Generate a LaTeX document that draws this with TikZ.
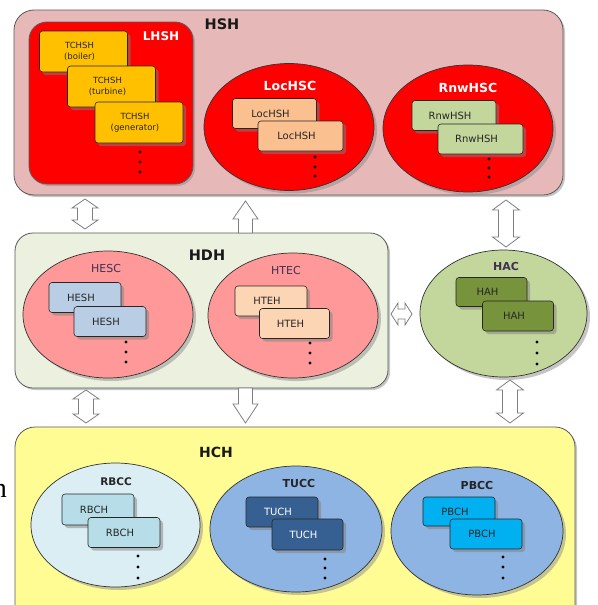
\documentclass[tikz,border=0pt]{standalone}
\usepackage{fontspec}
\setmainfont{DejaVu Sans}
\newfontfamily\serifh{Liberation Serif}
\usetikzlibrary{shapes.geometric,shadows}
\definecolor{hshfill}{HTML}{E6B9B8}
\definecolor{hdhfill}{HTML}{EBF1DE}
\definecolor{hchfill}{HTML}{FFFC94}
\definecolor{tchsh}{HTML}{FFC000}
\definecolor{lochsh}{HTML}{FAC090}
\definecolor{rnwhsh}{HTML}{C3D69B}
\definecolor{hescfill}{HTML}{FF9999}
\definecolor{hesh}{HTML}{B9CDE5}
\definecolor{hteh}{HTML}{FCD5B5}
\definecolor{hacfill}{HTML}{C3D69B}
\definecolor{hah}{HTML}{77933C}
\definecolor{rbccfill}{HTML}{DBEEF4}
\definecolor{rbch}{HTML}{B7DEE8}
\definecolor{tuccfill}{HTML}{8EB4E3}
\definecolor{tuch}{HTML}{376092}
\definecolor{pbch}{HTML}{00B0F0}
\definecolor{labdark}{HTML}{3F3151}
\definecolor{arrowgray}{HTML}{7F7F7F}
% vertical double block arrow: x, ytop, ybottom, head width, shaft width, head length
\newcommand\myvdarrow[6]{%
  \draw[blockarrow] (#1,#2) -- (#1+#4/2,#2+#6) -- (#1+#5/2,#2+#6) -- (#1+#5/2,#3-#6)
    -- (#1+#4/2,#3-#6) -- (#1,#3) -- (#1-#4/2,#3-#6) -- (#1-#5/2,#3-#6)
    -- (#1-#5/2,#2+#6) -- (#1-#4/2,#2+#6) -- cycle;}
% horizontal double block arrow: y, xleft, xright, head height, shaft height, head length
\newcommand\myhdarrow[6]{%
  \draw[blockarrow] (#2,#1) -- (#2+#6,#1-#4/2) -- (#2+#6,#1-#5/2) -- (#3-#6,#1-#5/2)
    -- (#3-#6,#1-#4/2) -- (#3,#1) -- (#3-#6,#1+#4/2) -- (#3-#6,#1+#5/2)
    -- (#2+#6,#1+#5/2) -- (#2+#6,#1+#4/2) -- cycle;}
% single up arrow (tip at ytop)
\newcommand\myuparrow[6]{%
  \draw[blockarrow] (#1,#2) -- (#1+#4/2,#2+#6) -- (#1+#5/2,#2+#6) -- (#1+#5/2,#3)
    -- (#1-#5/2,#3) -- (#1-#5/2,#2+#6) -- (#1-#4/2,#2+#6) -- cycle;}
% single down arrow (tip at ybottom)
\newcommand\mydownarrow[6]{%
  \draw[blockarrow] (#1,#3) -- (#1+#4/2,#3-#6) -- (#1+#5/2,#3-#6) -- (#1+#5/2,#2)
    -- (#1-#5/2,#2) -- (#1-#5/2,#3-#6) -- (#1-#4/2,#3-#6) -- cycle;}
\tikzset{
  outerbox/.style={draw=black!65, line width=0.8pt, rounded corners=20pt, inner sep=0pt,
    drop shadow={shadow xshift=2pt, shadow yshift=-2pt, fill=black!45}},
  ell/.style={ellipse, draw=black!80, line width=0.7pt, inner sep=0pt,
    drop shadow={shadow xshift=3pt, shadow yshift=-3pt, fill=black!45}},
  itembox/.style={draw=black!85, line width=0.6pt, rounded corners=3pt, inner sep=0pt,
    text=black!85, font=\fontsize{10}{11}\selectfont,
    execute at begin node={\hspace*{-8pt}},
    drop shadow={shadow xshift=3pt, shadow yshift=-3pt, fill=black!50}},
  tcbox/.style={itembox, execute at begin node={}, fill=tchsh, minimum width=88pt, minimum height=41pt, align=center,
    font=\fontsize{8.5}{11}\selectfont},
  bigtitle/.style={font=\bfseries\fontsize{14.5}{15}\selectfont, text=black!90},
  whitetitle/.style={font=\bfseries\fontsize{12.5}{13}\selectfont, text=white},
  subtitle/.style={font=\fontsize{11}{12}\selectfont, text=labdark},
  boldsub/.style={font=\bfseries\fontsize{11}{12}\selectfont, text=black!85},
  dotmark/.style={circle, fill=black, inner sep=0pt, minimum size=3.2pt},
  blockarrow/.style={draw=arrowgray, fill=white, line width=0.8pt, line join=miter}
}
\begin{document}
\begin{tikzpicture}[x=1pt,y=-1pt]
\useasboundingbox (0,0) rectangle (597,605);
\clip (0,0) rectangle (597,605);

% ---------- HSH ----------
\node[outerbox, fill=hshfill, minimum width=549pt, minimum height=185pt] (HSH) at (288.5,102.5) {};
\node[bigtitle] (HSHt) at (222,24) {HSH};

\node[outerbox, fill=red, rounded corners=18pt, minimum width=164pt, minimum height=162pt] (LHSH) at (111,103) {};
\node[whitetitle, font=\bfseries\fontsize{12}{13}\selectfont] (LHSHt) at (161,36) {LHSH};
\node[tcbox] (tc1) at (83.5,51.5) {TCHSH\\(boiler)};
\node[tcbox] (tc2) at (111.5,86.5) {TCHSH\\(turbine)};
\node[tcbox] (tc3) at (139,122.5) {TCHSH\\(generator)};
\node[dotmark] (d1a) at (140,152) {};
\node[dotmark] (d1b) at (140,162) {};
\node[dotmark] (d1c) at (140,172) {};

\node[ell, fill=red, minimum width=170pt, minimum height=127pt] (LocHSC) at (289,127) {};
\node[whitetitle] (LocHSCt) at (290,86) {LocHSC};
\node[itembox, fill=lochsh, minimum width=84pt, minimum height=30pt] (loc1) at (274.5,113.5) {LocHSH};
\node[itembox, fill=lochsh, minimum width=85pt, minimum height=30pt] (loc2) at (300.5,136) {LocHSH};
\node[dotmark] (d2a) at (315,157) {};
\node[dotmark] (d2b) at (315,167) {};
\node[dotmark] (d2c) at (315,176) {};

\node[ell, fill=red, minimum width=170pt, minimum height=127pt] (RnwHSC) at (468,128.5) {};
\node[whitetitle] (RnwHSCt) at (468,88) {RnwHSC};
\node[itembox, fill=rnwhsh, minimum width=84pt, minimum height=30pt] (rnw1) at (454,115.5) {RnwHSH};
\node[itembox, fill=rnwhsh, minimum width=85pt, minimum height=30pt] (rnw2) at (480.5,139) {RnwHSH};
\node[dotmark] (d3a) at (489,159) {};
\node[dotmark] (d3b) at (489,168) {};
\node[dotmark] (d3c) at (489,177) {};

% ---------- HDH ----------
\node[outerbox, fill=hdhfill, rounded corners=18pt, minimum width=373pt, minimum height=155pt] (HDH) at (201.5,310.5) {};
\node[bigtitle] (HDHt) at (207,255) {HDH};

\node[ell, fill=hescfill, minimum width=170pt, minimum height=127pt] (HESC) at (108,314.5) {};
\node[subtitle] (HESCt) at (106,268) {HESC};
\node[itembox, fill=hesh, minimum width=72pt, minimum height=30pt] (hesh1) at (85,297.5) {HESH};
\node[itembox, fill=hesh, minimum width=72pt, minimum height=30pt] (hesh2) at (110,321.5) {HESH};
\node[dotmark] (d4a) at (126,342) {};
\node[dotmark] (d4b) at (126,352) {};
\node[dotmark] (d4c) at (126,362) {};

\node[ell, fill=hescfill, minimum width=170pt, minimum height=125pt] (HTEC) at (293,315.5) {};
\node[subtitle] (HTECt) at (286,270) {HTEC};
\node[itembox, fill=hteh, minimum width=72pt, minimum height=30pt] (hteh1) at (271,301) {HTEH};
\node[itembox, fill=hteh, minimum width=70pt, minimum height=30pt] (hteh2) at (294.5,323.5) {HTEH};
\node[dotmark] (d5a) at (310,343) {};
\node[dotmark] (d5b) at (310,353) {};
\node[dotmark] (d5c) at (310,363) {};

% ---------- HAC ----------
\node[ell, fill=hacfill, minimum width=167pt, minimum height=127pt] (HAC) at (503.5,313.5) {};
\node[boldsub, text=labdark] (HACt) at (506,266) {HAC};
\node[itembox, fill=hah, minimum width=71pt, minimum height=29pt] (hah1) at (491.5,292) {HAH};
\node[itembox, fill=hah, minimum width=71pt, minimum height=30pt] (hah2) at (518,316) {HAH};
\node[dotmark] (d6a) at (537,342) {};
\node[dotmark] (d6b) at (537,353) {};
\node[dotmark] (d6c) at (537,364) {};

% ---------- HCH ----------
\node[outerbox, fill=hchfill, minimum width=560pt, minimum height=213pt] (HCH) at (295,533.5) {};
\node[bigtitle, font=\bfseries\fontsize{14}{15}\selectfont] (HCHt) at (216,452) {HCH};

\node[ell, fill=rbccfill, minimum width=169pt, minimum height=124pt] (RBCC) at (115.5,525) {};
\node[boldsub, font=\bfseries\fontsize{10.5}{12}\selectfont] (RBCCt) at (116,482) {RBCC};
\node[itembox, fill=rbch, minimum width=72pt, minimum height=31pt] (rbch1) at (98,509.5) {RBCH};
\node[itembox, fill=rbch, minimum width=72pt, minimum height=30pt] (rbch2) at (124,532.5) {RBCH};
\node[dotmark] (d7a) at (138,556) {};
\node[dotmark] (d7b) at (138,567) {};
\node[dotmark] (d7c) at (138,578) {};

\node[ell, fill=tuccfill, minimum width=172pt, minimum height=126pt] (TUCC) at (296,529) {};
\node[boldsub] (TUCCt) at (299,483) {TUCC};
\node[itembox, fill=tuch, text=white, minimum width=72pt, minimum height=30pt] (tuch1) at (282,512) {TUCH};
\node[itembox, fill=tuch, text=white, minimum width=71pt, minimum height=31pt] (tuch2) at (307.5,534.5) {TUCH};
\node[dotmark] (d8a) at (325,559) {};
\node[dotmark] (d8b) at (325,568) {};
\node[dotmark] (d8c) at (325,578) {};

\node[ell, fill=tuccfill, minimum width=172pt, minimum height=128pt] (PBCC) at (477,531) {};
\node[boldsub] (PBCCt) at (477,485) {PBCC};
\node[itembox, fill=pbch, minimum width=72pt, minimum height=29pt] (pbch1) at (459,511.5) {PBCH};
\node[itembox, fill=pbch, minimum width=72pt, minimum height=30pt] (pbch2) at (486,534) {PBCH};
\node[dotmark] (d9a) at (503,557) {};
\node[dotmark] (d9b) at (503,567) {};
\node[dotmark] (d9c) at (503,578) {};

% ---------- block arrows ----------
\myvdarrow{85}{199}{229}{26}{15}{9}        % HSH <-> HDH
\myuparrow{245.5}{201}{233}{25}{14}{18}    % HDH -> HSH
\myvdarrow{506}{200}{247}{27}{15}{10}      % HSH <-> HAC
\myhdarrow{314}{391}{412}{22}{10}{7}       % HDH <-> HAC
\myvdarrow{86}{390}{423}{26}{15}{9}        % HDH <-> HCH
\mydownarrow{245.5}{388}{423}{25}{14}{19}  % HDH -> HCH
\myvdarrow{510}{380}{423}{27}{15}{10}      % HAC <-> HCH

% stray letter at the left edge (cut off in the reference as well)
\node[font=\serifh\fontsize{28}{28}\selectfont, anchor=base east, inner sep=0pt] (hfrag) at (7,497) {h};
\end{tikzpicture}
\end{document}
